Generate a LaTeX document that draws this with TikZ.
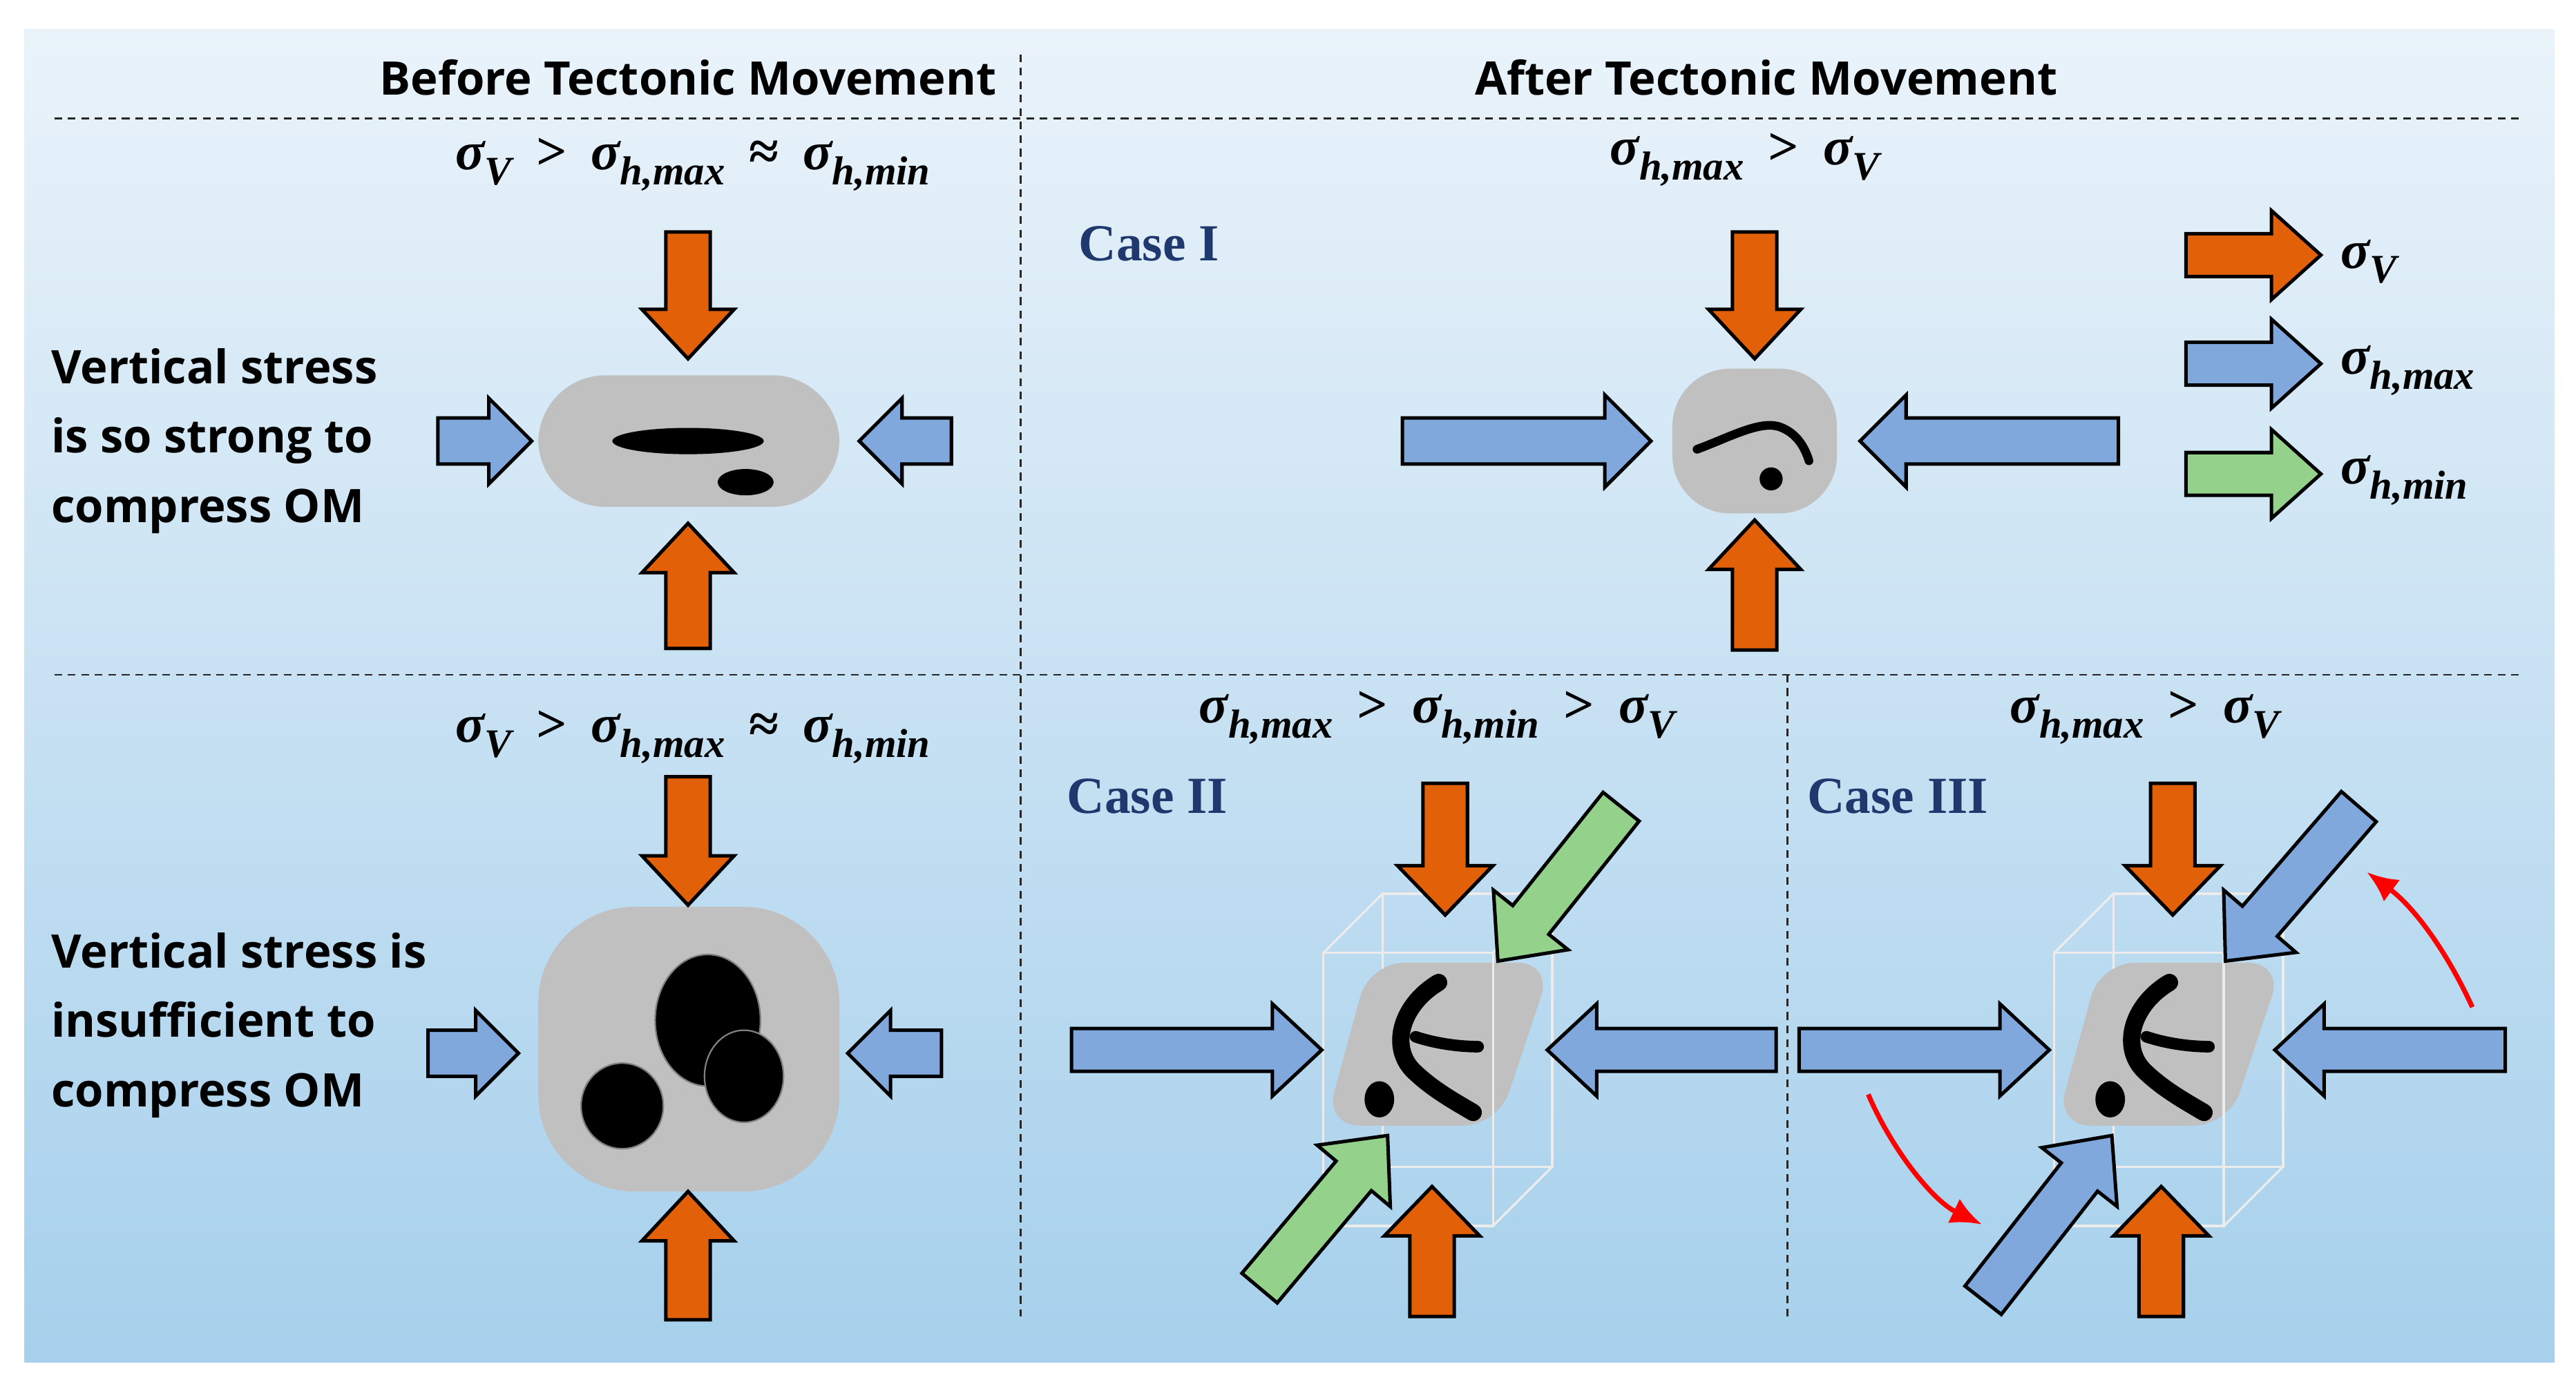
\documentclass[tikz,border=0pt]{standalone}
\usepackage{fontspec}
\setmainfont{Open Sans}
\newfontfamily\serifbf{Liberation Serif}
\usetikzlibrary{calc,arrows.meta}
\definecolor{org}{RGB}{226,96,8}
\definecolor{blu}{RGB}{128,168,221}
\definecolor{grn}{RGB}{148,210,140}
\definecolor{gry}{RGB}{192,192,192}
\definecolor{navy}{RGB}{31,56,110}
\definecolor{bgtop}{RGB}{234,243,250}
\definecolor{bgbot}{RGB}{166,208,236}
\newcommand\sig[1]{{\itshape σ\raisebox{-0.28em}{\fontsize{21}{22}\selectfont #1}}}
\newcommand\rel[1]{\hspace{0.45em}#1\hspace{0.45em}}
\tikzset{
 arr/.style={draw=black,line width=1.8pt,line join=miter},
 dsh/.style={dash pattern=on 4pt off 3pt,line width=0.9pt,black!85},
 head/.style={font=\bfseries\fontsize{24}{28}\selectfont},
 side/.style={font=\bfseries\fontsize{24}{36}\selectfont,align=left,anchor=west},
 mth/.style={font=\serifbf\bfseries\fontsize{28}{30}\selectfont},
 case/.style={font=\serifbf\bfseries\fontsize{27}{30}\selectfont,text=navy},
 om/.style={fill=black},
 cube/.style={draw=white!85!gray,line width=1.2pt},
}
% color, tipx, tipy, angle, length, shaft, headw, headlen
\newcommand\barr[8]{\begin{scope}[shift={(#2,#3)},rotate=#4]
\draw[arr,fill=#1](0,0)--(-#8,#7/2)--(-#8,#6/2)--(-#5,#6/2)--(-#5,-#6/2)--(-#8,-#6/2)--(-#8,-#7/2)--cycle;\end{scope}}
\begin{document}
\begin{tikzpicture}[x=0.03cm,y=-0.03cm]
\useasboundingbox (0,0) rectangle (1565,845);
\fill[white] (0,0) rectangle (1565,845);
\shade[top color=bgtop,bottom color=bgbot] (15,18) rectangle (1552,828);
% dividers
\draw[dsh] (33,72)--(1533,72);
\draw[dsh] (33,410)--(1533,410);
\draw[dsh] (620,33)--(620,800);
\draw[dsh] (1086,410)--(1086,800);
% headings
\node[head] (h1) at (418,47) {Before Tectonic Movement};
\node[head] (h2) at (1073,47) {After Tectonic Movement};
\node[side] (t1) at (27,268) {Vertical stress\\is so strong to\\compress OM};
\node[side] (t2) at (27,623) {Vertical stress is\\insufficient to\\compress OM};
% formulas
\node[mth] (f1) at (421,100) {\sig{V}\rel{>}\sig{h,max}\rel{≈}\sig{h,min}};
\node[mth] (f2) at (421,448) {\sig{V}\rel{>}\sig{h,max}\rel{≈}\sig{h,min}};
\node[mth] (f3) at (1060,97) {\sig{h,max}\rel{>}\sig{V}};
\node[mth] (f4) at (873,436) {\sig{h,max}\rel{>}\sig{h,min}\rel{>}\sig{V}};
\node[mth] (f5) at (1303,436) {\sig{h,max}\rel{>}\sig{V}};
\node[case] (c1) at (698,148) {Case I};
\node[case] (c2) at (697,484) {Case II};
\node[case] (c3) at (1153,484) {Case III};
% ---- top-left
\fill[gry,rounded corners=35] (327,228) rectangle (510,308);
\fill[om] (418,268) ellipse (46 and 8);
\fill[om] (453,293) ellipse (17 and 8);
\barr{org}{418}{218}{-90}{77}{27}{56}{30}
\barr{org}{418}{318}{90}{76}{27}{56}{30}
\barr{blu}{323}{268}{0}{57}{28}{52}{26}
\barr{blu}{522}{268}{180}{56}{28}{52}{26}
% ---- case I
\fill[gry,rounded corners=30] (1016,224) rectangle (1116,312);
\draw[line width=4.5pt,line cap=round] (1031,273) .. controls (1050,266) and (1068,256) .. (1080,259) .. controls (1090,262) and (1096,270) .. (1099,280);
\fill[om] (1076,291) circle (7);
\barr{org}{1066}{218}{-90}{77}{27}{56}{30}
\barr{org}{1066}{316}{90}{79}{27}{56}{30}
\barr{blu}{1003}{268}{0}{151}{28}{56}{28}
\barr{blu}{1130}{268}{180}{157}{28}{56}{28}
% legend
\barr{org}{1410}{155}{0}{82}{26}{54}{30}
\barr{blu}{1410}{221}{0}{82}{26}{54}{30}
\barr{grn}{1410}{288}{0}{82}{26}{54}{30}
\node[mth,anchor=west] (l1) at (1418,159) {\sig{V}};
\node[mth,anchor=west] (l2) at (1418,225) {\sig{h,max}};
\node[mth,anchor=west] (l3) at (1418,292) {\sig{h,min}};
% ---- bottom-left
\fill[gry,rounded corners=50] (327,551) rectangle (510,724);
\draw[om,draw=gray,line width=0.8pt] (430,620) ellipse (32 and 40);
\draw[om,draw=gray,line width=0.8pt] (452,654) ellipse (24 and 28);
\draw[om,draw=gray,line width=0.8pt] (378,672) ellipse (25 and 26);
\barr{org}{418}{550}{-90}{78}{27}{56}{30}
\barr{org}{418}{724}{90}{78}{27}{56}{30}
\barr{blu}{315}{640}{0}{55}{28}{52}{26}
\barr{blu}{515}{640}{180}{57}{28}{52}{26}
% ---- case II & III
\foreach \dx in {0,444}{
\begin{scope}[xshift=\dx*0.03cm]
\draw[cube] (840,543) rectangle (943,709);
\draw[cube] (804,579)--(840,543) (907,579)--(943,543) (804,745)--(840,709) (907,745)--(943,709);
\fill[gry,rounded corners=18] (832,585)--(943,585)--(910,684)--(805,684)--cycle;
\draw[line width=9pt,line cap=round,line join=round] (874,597) .. controls (852,610) and (844,635) .. (858,650) .. controls (870,662) and (885,670) .. (895,676);
\draw[line width=6pt,line cap=round] (860,630) .. controls (872,634) and (886,636) .. (898,636);
\fill[om] (838,668) ellipse (9 and 11);
\draw[cube] (804,579) rectangle (907,745);
\end{scope}}
\barr{org}{878}{556}{-90}{80}{27}{58}{30}
\barr{org}{870}{721}{90}{79}{27}{58}{30}
\barr{blu}{803}{638}{0}{152}{26}{56}{30}
\barr{blu}{940}{638}{180}{139}{26}{56}{30}
\barr{grn}{910}{584}{231.4}{120}{28}{58}{32}
\barr{grn}{843}{690}{50}{121}{28}{58}{32}
\barr{org}{1320}{556}{-90}{80}{27}{58}{30}
\barr{org}{1313}{721}{90}{79}{27}{58}{30}
\barr{blu}{1245}{638}{0}{152}{26}{56}{30}
\barr{blu}{1382}{638}{180}{140}{26}{56}{30}
\barr{blu}{1352}{584}{229.2}{124}{28}{58}{32}
\barr{blu}{1283}{690}{52}{127}{28}{58}{32}
% red arrows
\coordinate (ra1) at (1135,665); \coordinate (ra2) at (1204,744);
\coordinate (rb1) at (1502,612); \coordinate (rb2) at (1438,530);
\draw[red,line width=2.5pt,-{Latex[length=16pt,width=14pt]}] (ra1) .. controls (1150,700) and (1175,730) .. (ra2);
\draw[red,line width=2.5pt,-{Latex[length=16pt,width=14pt]}] (rb1) .. controls (1485,575) and (1465,550) .. (rb2);
\end{tikzpicture}
\end{document}
